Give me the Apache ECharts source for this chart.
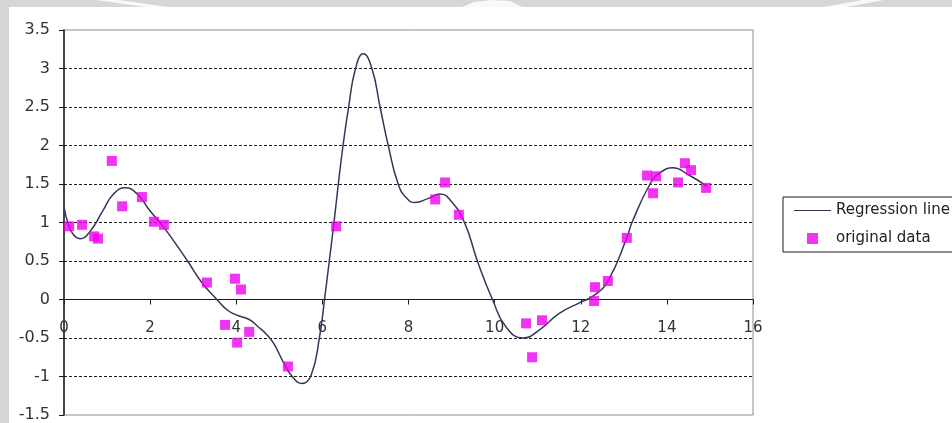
<!DOCTYPE html>
<html>
<head>
<meta charset="utf-8">
<script src="https://cdn.jsdelivr.net/npm/echarts@6/dist/echarts.min.js"></script>
<style>
  html, body { margin: 0; padding: 0; background: #d6d6d6; }
  #chart { width: 952px; height: 423px; }
</style>
</head>
<body>
<div id="chart"></div>
<script>
// Observed samples (x, y)
const dataX = [0.12, 0.42, 0.70, 0.79, 1.11, 1.35, 1.81, 2.09, 2.32, 3.32, 3.74, 3.97, 4.02, 4.11, 4.30, 5.20,
               6.32, 8.62, 8.85, 9.17, 10.73, 10.87, 11.10, 12.31, 12.33, 12.63, 13.07, 13.54, 13.68, 13.75,
               14.26, 14.42, 14.56, 14.91];
const dataY = [0.95, 0.97, 0.82, 0.79, 1.80, 1.21, 1.33, 1.01, 0.97, 0.22, -0.33, 0.27, -0.56, 0.13, -0.42, -0.87,
               0.95, 1.30, 1.52, 1.10, -0.31, -0.75, -0.27, -0.02, 0.16, 0.24, 0.80, 1.61, 1.38, 1.60,
               1.52, 1.77, 1.68, 1.45];

// Fitted regression curve (x, y)
const fitX = [0, 0.1, 0.22, 0.37, 0.6, 0.9, 1.15, 1.42, 1.7, 2.0, 2.3, 2.6, 2.87, 3.2, 3.55, 3.8, 4.0, 4.3,
              4.5, 4.7, 4.88, 5.08, 5.3, 5.53, 5.74, 5.93, 6.05, 6.16, 6.27, 6.37, 6.48, 6.61, 6.77, 6.95,
              7.15, 7.34, 7.53, 7.76, 7.95, 8.15, 8.45, 8.73, 9.0, 9.3, 9.6, 9.95, 10.27, 10.66, 11.05,
              11.5, 11.98, 12.3, 12.63, 13.07, 13.19, 13.61, 13.85, 14.14, 14.5, 14.93];
const fitY = [1.2, 0.98, 0.84, 0.79, 0.88, 1.15, 1.37, 1.45, 1.37, 1.15, 0.95, 0.72, 0.5, 0.22, 0.0, -0.14,
              -0.2, -0.26, -0.35, -0.45, -0.58, -0.8, -1.0, -1.09, -0.98, -0.5, 0.0, 0.5, 1.0, 1.5, 2.0,
              2.5, 3.0, 3.19, 3.0, 2.5, 2.0, 1.5, 1.32, 1.26, 1.31, 1.37, 1.27, 1.0, 0.5, 0.0, -0.36, -0.5,
              -0.39, -0.18, -0.04, 0.05, 0.24, 0.8, 1.0, 1.5, 1.65, 1.71, 1.62, 1.47];

const seriesNames = ['Regression line', 'original data'];

const xMin = 0, xMax = 16, xStep = 2;
const yMin = -1.5, yMax = 3.5, yStep = 0.5;

// Plot box (pixels)
const gridLeft = 64, gridRight = 199, gridTop = 30, gridBottom = 8;
const chartH = 423;
const plotH = chartH - gridTop - gridBottom;
// The x tick labels sit under the y = 0 line, inside the plot
const zeroOffset = -plotH * (0 - yMin) / (yMax - yMin);

const chart = echarts.init(document.getElementById('chart'), null, { renderer: 'canvas' });

const font = 'DejaVu Sans';

const xBase = { type: 'value', min: xMin, max: xMax, interval: xStep, splitLine: { show: false } };

chart.setOption({
  animation: false,
  backgroundColor: '#d6d6d6',
  graphic: [
    { type: 'rect', z: -20, shape: { x: 9, y: 7, width: 943, height: 416 }, style: { fill: '#ffffff' } },
    { type: 'polygon', z: -19, shape: { points: [[96, 0], [118, 0], [168, 7], [146, 7]] }, style: { fill: '#ffffff', opacity: 0.85 } },
    { type: 'polygon', z: -19, shape: { points: [[462, 7], [474, 2], [492, 0], [510, 1], [522, 7]] }, style: { fill: '#ffffff', opacity: 0.85 } },
    { type: 'polygon', z: -19, shape: { points: [[862, 0], [884, 0], [846, 7], [824, 7]] }, style: { fill: '#ffffff', opacity: 0.85 } }
  ],
  grid: {
    left: gridLeft, right: gridRight, top: gridTop, bottom: gridBottom,
    outerBoundsMode: 'none',
    containLabel: false,
    show: true, borderColor: '#8e8e8e', borderWidth: 1, backgroundColor: 'transparent'
  },
  legend: {
    orient: 'vertical',
    left: 783, top: 197,
    padding: [6, 40, 6, 11],
    itemWidth: 37, itemHeight: 11, itemGap: 13,
    borderColor: '#1a1a1a', borderWidth: 1, backgroundColor: '#ffffff',
    textStyle: { fontFamily: font, fontSize: 15, color: '#222' },
    data: [
      { name: seriesNames[0], icon: 'path://M0,0H37V1H0Z' },
      { name: seriesNames[1], icon: 'path://M0,0H1V1H0Z' }
    ]
  },
  xAxis: [
    Object.assign({}, xBase, {
      axisLine: { onZero: true, lineStyle: { color: '#1a1a1a', width: 1 } },
      axisTick: { show: true, length: 5, lineStyle: { color: '#1a1a1a' } },
      axisLabel: { show: false }
    }),
    Object.assign({}, xBase, {
      position: 'bottom',
      offset: zeroOffset,
      axisLine: { show: false, onZero: false },
      axisTick: { show: false },
      axisLabel: { margin: 21, fontFamily: font, fontSize: 15, color: '#333' }
    })
  ],
  yAxis: {
    type: 'value', min: yMin, max: yMax, interval: yStep,
    axisLine: { show: true, onZero: false, lineStyle: { color: '#1a1a1a', width: 1.5 } },
    axisTick: { show: true, length: 5, lineStyle: { color: '#1a1a1a' } },
    axisLabel: { margin: 14, fontFamily: font, fontSize: 16, color: '#333' },
    splitLine: {
      show: true, showMinLine: false, showMaxLine: false,
      lineStyle: { color: '#1a1a1a', type: [3, 2], width: 1 }
    }
  },
  series: [
    {
      name: seriesNames[0],
      type: 'line',
      data: fitX.map((x, i) => [x, fitY[i]]),
      smooth: true,
      showSymbol: false,
      color: '#353558',
      lineStyle: { color: '#353558', width: 1.5 },
      z: 3
    },
    {
      name: seriesNames[1],
      type: 'scatter',
      data: dataX.map((x, i) => [x, dataY[i]]),
      symbol: 'rect',
      symbolSize: 10,
      color: '#f000f0',
      itemStyle: { color: '#f000f0' },
      z: 4
    }
  ]
});
</script>
</body>
</html>
